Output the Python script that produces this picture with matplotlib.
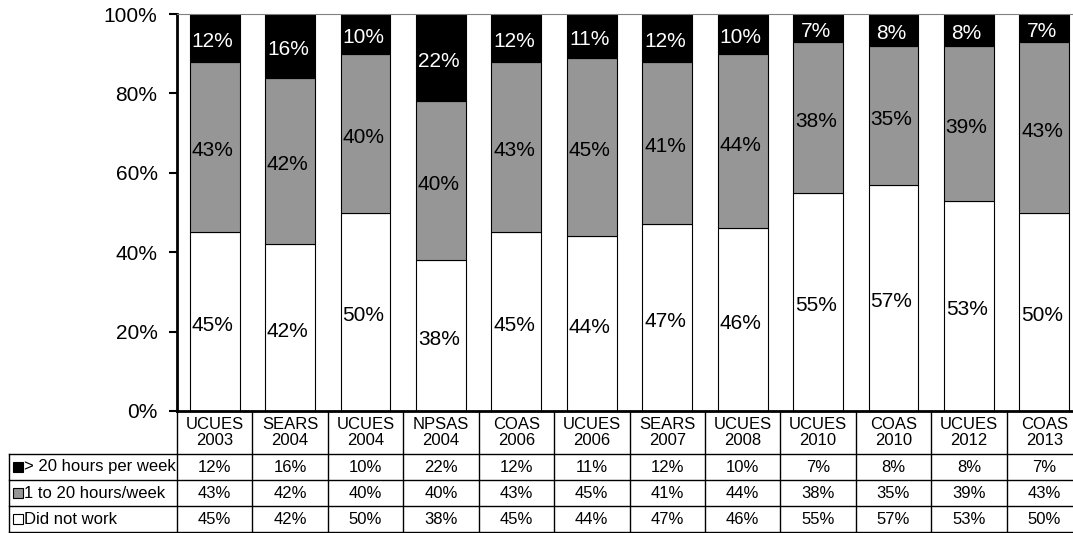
import matplotlib
matplotlib.use("Agg")
import matplotlib.pyplot as plt
from matplotlib.patches import Rectangle
from matplotlib.transforms import blended_transform_factory

plt.rcParams["font.family"] = ["Liberation Sans", "DejaVu Sans"]

SURVEYS = ["UCUES\n2003", "SEARS\n2004", "UCUES\n2004", "NPSAS\n2004", "COAS\n2006",
           "UCUES\n2006", "SEARS\n2007", "UCUES\n2008", "UCUES\n2010", "COAS\n2010",
           "UCUES\n2012", "COAS\n2013"]
DID_NOT_WORK = [45, 42, 50, 38, 45, 44, 47, 46, 55, 57, 53, 50]
HOURS_1_20   = [43, 42, 40, 40, 43, 45, 41, 44, 38, 35, 39, 43]
HOURS_20_UP  = [12, 16, 10, 22, 12, 11, 12, 10, 7, 8, 8, 7]

SERIES = [
    ("> 20 hours per week", HOURS_20_UP, "black", "white"),
    ("1 to 20 hours/week", HOURS_1_20, "#969696", "black"),
    ("Did not work", DID_NOT_WORK, "white", "black"),
]

FS_TICK = 15
FS_TABLE = 12

fig = plt.figure(figsize=(10.73, 5.33), dpi=100)
ax = fig.add_axes([177 / 1073, 1 - 411 / 533, 905 / 1073, 397 / 533])

n = len(SURVEYS)
x = list(range(n))
bottoms = [0] * n
# stack bottom-up: did not work, 1-20, >20
for name, vals, fc, tc in SERIES[::-1]:
    ax.bar(x, vals, bottom=bottoms, width=0.66, color=fc, edgecolor="black",
           linewidth=0.8, zorder=2)
    for i, v in enumerate(vals):
        ax.text(i - 0.03, bottoms[i] + v / 2 - 1, f"{v}%", ha="center", va="center",
                fontsize=FS_TICK, color=tc, zorder=3)
    bottoms = [b + v for b, v in zip(bottoms, vals)]

ax.set_xlim(-0.5, n - 0.5)
ax.set_ylim(0, 100)
ax.set_yticks(range(0, 101, 20))
ax.set_yticklabels([f"{t}%" for t in range(0, 101, 20)], fontsize=FS_TICK)
ax.set_xticks([])
ax.tick_params(axis="y", direction="out", length=6, width=1.5, pad=8)
ax.spines["left"].set_linewidth(2)
ax.spines["bottom"].set_linewidth(2)
ax.spines["right"].set_visible(False)
ax.spines["top"].set_color("#808080")
ax.spines["top"].set_linewidth(0.8)

# data table under the plot (x in data units, y in axes fraction)
tr = blended_transform_factory(ax.transData, ax.transAxes)
h_hdr = -(454 - 411) / 397
row_h = 26 / 397
row_ys = [h_hdr - row_h * k for k in range(4)]
x_left = -0.5 - (177 - 9) / 75.4
lw = 1.0

def line(xs, ys):
    ax.plot(xs, ys, color="black", lw=lw, transform=tr, clip_on=False, zorder=5)

for k in range(n + 1):
    line([k - 0.5, k - 0.5], [0, row_ys[-1]])
for y in row_ys:
    line([x_left, n - 0.5], [y, y])
line([x_left, x_left], [row_ys[0], row_ys[-1]])

for i, lab in enumerate(SURVEYS):
    ax.text(i, h_hdr / 2, lab, ha="center", va="center", fontsize=FS_TABLE,
            transform=tr, linespacing=1.15)

for r, (name, vals, fc, tc) in enumerate(SERIES):
    yc = (row_ys[r] + row_ys[r + 1]) / 2
    ax.add_patch(Rectangle((x_left + 0.06, yc - 0.012), 0.13, 0.024, facecolor=fc,
                           edgecolor="black", linewidth=0.8, transform=tr,
                           clip_on=False, zorder=5))
    ax.text(x_left + 0.2, yc, name, ha="left", va="center", fontsize=FS_TABLE,
            transform=tr)
    for i, v in enumerate(vals):
        ax.text(i, yc, f"{v}%", ha="center", va="center", fontsize=FS_TABLE,
                transform=tr)

fig.savefig("out.png", dpi=100)
